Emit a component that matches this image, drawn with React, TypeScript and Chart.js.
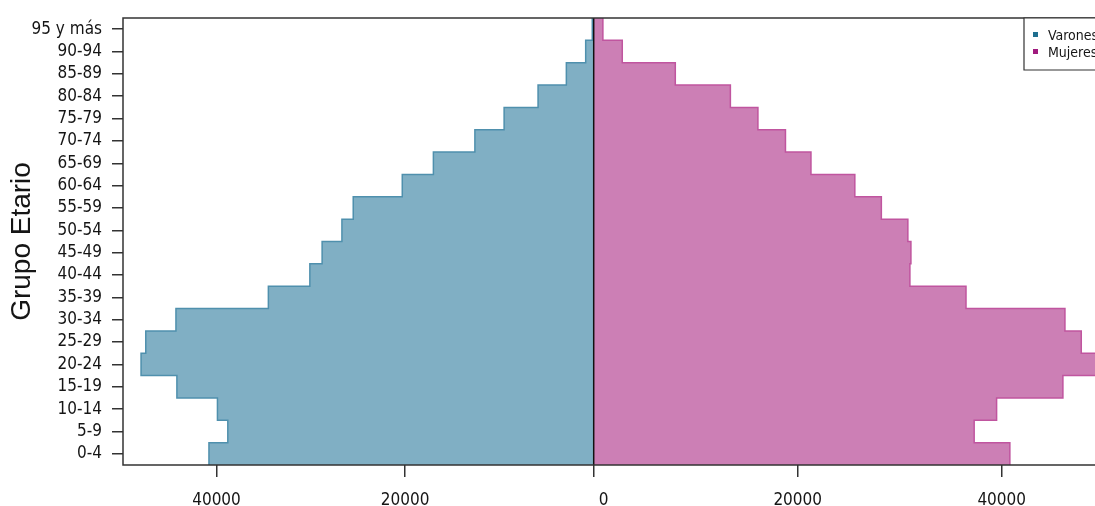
import React, { useEffect, useRef } from 'react';
import { Chart, registerables } from 'chart.js';

Chart.register(...registerables);

// ---- Data ----
const categories = [
  '0-4', '5-9', '10-14', '15-19', '20-24', '25-29', '30-34', '35-39', '40-44', '45-49',
  '50-54', '55-59', '60-64', '65-69', '70-74', '75-79', '80-84', '85-89', '90-94', '95 y más',
];
const varones = [
  40800, 38800, 39900, 44200, 48000, 47500, 44300, 34500, 30100, 28800,
  26700, 25500, 20300, 17000, 12600, 9500, 5900, 2900, 850, 150,
];
const mujeres = [
  40800, 37300, 39500, 46000, 49600, 47800, 46200, 36500, 31000, 31100,
  30800, 28200, 25600, 21300, 18800, 16100, 13400, 8000, 2800, 900,
];
const maleTicks = [40000, 20000];
const zeroTick = [0];
const femaleTicks = [20000, 40000];
const legendLabels = ['Varones', 'Mujeres'];

// ---- Styles ----
const NARROW = '"Liberation Sans Narrow", "Arial Narrow", "DejaVu Sans Condensed", sans-serif';
const SANS = '"Liberation Sans", Arial, sans-serif';
const TEXT = '#151515';
const AXIS = '#333333';
const MALE_FILL = '#80afc4';
const MALE_LINE = '#4f90ad';
const FEMALE_FILL = '#cc7fb5';
const FEMALE_LINE = '#c0559f';
const MALE_KEY = '#1f6f8f';
const FEMALE_KEY = '#a01a7e';

const stepPoints = (vals: number[]) =>
  vals.flatMap((v, i) => [
    { x: v, y: i - 0.5 },
    { x: v, y: i + 0.5 },
  ]);

const framePlugin = {
  id: 'frame',
  afterDatasetsDraw(chart: any) {
    const { ctx, chartArea } = chart;
    const x0 = chart.scales.xf.getPixelForValue(0);
    ctx.save();
    ctx.strokeStyle = '#111';
    ctx.lineWidth = 1.5;
    ctx.beginPath();
    ctx.moveTo(x0, chartArea.top);
    ctx.lineTo(x0, chartArea.bottom);
    ctx.stroke();
    ctx.restore();
  },
  afterDraw(chart: any) {
    const { ctx, chartArea } = chart;
    const { left, top, right, bottom } = chartArea;
    ctx.save();
    ctx.strokeStyle = AXIS;
    ctx.lineWidth = 1.5;
    // plot box (its right side lies beyond the visible page)
    ctx.beginPath();
    ctx.moveTo(right + 20, top);
    ctx.lineTo(left, top);
    ctx.lineTo(left, bottom);
    ctx.lineTo(right + 20, bottom);
    ctx.stroke();

    // legend box (top right, cut by the page edge)
    const bx = right - 71;
    const by = top;
    ctx.fillStyle = '#fff';
    ctx.fillRect(bx, by, right - bx + 20, 52);
    ctx.lineWidth = 1.2;
    ctx.beginPath();
    ctx.moveTo(right + 20, by);
    ctx.lineTo(bx, by);
    ctx.lineTo(bx, by + 52);
    ctx.lineTo(right + 20, by + 52);
    ctx.stroke();
    const keys = [MALE_KEY, FEMALE_KEY];
    legendLabels.forEach((lab, i) => {
      const cy = by + 16.5 + i * 17;
      ctx.fillStyle = keys[i];
      ctx.fillRect(bx + 9, cy - 2.5, 5, 5);
      ctx.fillStyle = TEXT;
      ctx.font = `14px ${NARROW}`;
      ctx.textBaseline = 'middle';
      ctx.textAlign = 'left';
      ctx.fillText(lab, bx + 24, cy + 2);
    });
    ctx.restore();
  },
};

const xAxis = (min: number, max: number, values: number[], reverse: boolean, labelOffset: number, font: any) => ({
  type: 'linear',
  axis: 'x',
  reverse,
  min,
  max,
  position: { y: -0.5 },
  afterBuildTicks: (s: any) => {
    s.ticks = values.map((v) => ({ value: v }));
  },
  ticks: {
    autoSkip: false,
    maxRotation: 0,
    color: TEXT,
    font,
    padding: 13,
    labelOffset,
    callback: (v: any) => String(v),
  },
  grid: { drawOnChartArea: false, tickLength: 12, color: AXIS, lineWidth: 1.5 },
  border: { display: false },
});

export default function App() {
  const ref = useRef<HTMLCanvasElement | null>(null);

  useEffect(() => {
    document.documentElement.style.overflow = 'hidden';
    document.body.style.overflow = 'hidden';
    if (!ref.current) return;
    const tickFont = { family: NARROW, size: 17 };
    const chart = new Chart(ref.current, {
      type: 'line',
      data: {
        datasets: [
          {
            label: legendLabels[0],
            data: stepPoints(varones),
            xAxisID: 'xm',
            yAxisID: 'y',
            borderColor: MALE_LINE,
            backgroundColor: MALE_FILL,
            borderWidth: 1.5,
            pointRadius: 0,
            fill: 'origin',
            tension: 0,
          } as any,
          {
            label: legendLabels[1],
            data: stepPoints(mujeres),
            xAxisID: 'xf',
            yAxisID: 'y',
            borderColor: FEMALE_LINE,
            backgroundColor: FEMALE_FILL,
            borderWidth: 1.5,
            pointRadius: 0,
            fill: 'origin',
            tension: 0,
          } as any,
        ],
      },
      options: {
        indexAxis: 'y',
        animation: false,
        responsive: false,
        devicePixelRatio: 1,
        layout: { padding: { left: 0, top: 10, right: 0, bottom: 41 } },
        plugins: {
          legend: { display: false },
          tooltip: { enabled: false },
        },
        scales: {
          y: {
            type: 'linear',
            position: 'left',
            min: -0.5,
            max: 19.5,
            afterBuildTicks: (s: any) => {
              s.ticks = categories.map((_, i) => ({ value: i }));
            },
            afterFit: (s: any) => {
              s.width = 115;
              s.paddingTop = 0;
              s.paddingBottom = 0;
            },
            ticks: {
              autoSkip: false,
              color: TEXT,
              font: tickFont,
              padding: 10,
              callback: (v: any) => categories[v as number],
            },
            grid: { drawOnChartArea: false, drawTicks: true, tickLength: 11, color: AXIS, lineWidth: 1.5 },
            border: { display: false },
            title: {
              display: true,
              text: 'Grupo Etario',
              color: TEXT,
              font: { family: SANS, size: 28, lineHeight: 1 },
              padding: 0,
            },
          },
          xm: xAxis(-53160, 49915, maleTicks, true, 0, tickFont),
          x0: xAxis(-46147, 49147, zeroTick, false, 10, tickFont),
          xf: xAxis(-46147, 49147, femaleTicks, false, 0, tickFont),
        } as any,
      },
      plugins: [framePlugin],
    });
    return () => chart.destroy();
  }, []);

  return (
    <div style={{ position: 'fixed', left: 8, top: 8, width: 1087, height: 498, overflow: 'hidden' }}>
      <canvas ref={ref} width={1087} height={498} />
    </div>
  );
}
